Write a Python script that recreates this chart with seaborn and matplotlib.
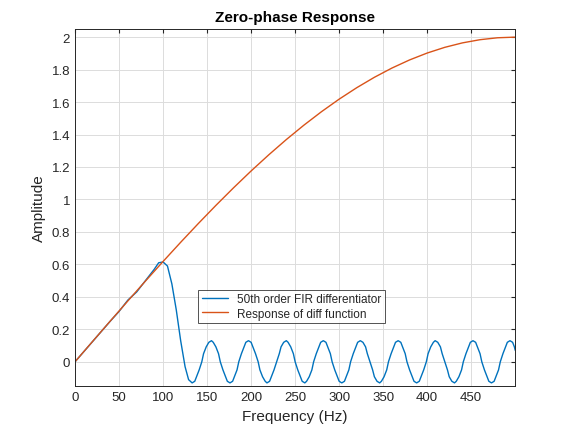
import matplotlib
matplotlib.use("Agg")
import matplotlib.pyplot as plt
import seaborn as sns
import pandas as pd

diff_f = [0,20,40,60,80,100,120,140,160,180,200,220,240,260,280,300,320,340,360,380,400,420,440,460,480,500]
diff_a = [0,0.1256,0.2507,0.3748,0.4974,0.6180,0.7362,0.8515,0.9635,1.0716,1.1756,1.2748,1.3691,1.4579,1.5410,
          1.6180,1.6886,1.7526,1.8097,1.8596,1.9021,1.9372,1.9646,1.9842,1.9961,2.0]

fir_f = [0,20,40,50,60,70,80,90,95,100,105,110,115,120,125,129,
         133,136,138,141,144,146,149,152,155,157,160,163,165,168,171,173,
         176,179,181,184,186,189,192,194,197,200,202,205,208,210,213,216,
         218,221,223,226,229,232,234,237,240,242,245,248,250,253,256,258,
         261,263,266,269,271,274,277,279,282,285,287,290,292,295,298,300,
         303,306,308,311,313,316,319,321,324,327,330,332,335,338,340,343,
         346,348,351,354,356,359,362,364,367,370,372,375,377,380,383,385,
         388,391,393,396,399,401,404,407,409,412,415,417,420,423,425,428,
         431,433,436,439,441,444,447,449,452,455,457,460,462,465,468,470,
         473,476,478,481,483,486,489,491,494,497,499,500]
cycle = [-0.13,-0.12,-0.092,-0.05,0,0.05,0.092,0.12,0.13,0.12,0.092,0.05,0,-0.05,-0.092,-0.12]
fir_a = ([0,0.125,0.25,0.31,0.38,0.43,0.50,0.57,0.61,0.615,0.59,0.48,0.32,0.13,-0.03,-0.11]
         + cycle*8 + [-0.13,-0.12,-0.092,-0.05,0,0.05,0.092,0.12,0.13,0.12,0.092,0.07])

sns.set_style("white")
plt.rcParams['font.family'] = ['Liberation Sans', 'DejaVu Sans']
fig = plt.figure(figsize=(5.77,4.35), dpi=100)
ax = fig.add_axes([0.13,0.11,0.763,0.821])
d1 = pd.DataFrame({"f":fir_f,"a":fir_a})
d2 = pd.DataFrame({"f":diff_f,"a":diff_a})
sns.lineplot(data=d1,x="f",y="a",ax=ax,color="#0072BD",lw=1,sort=False,label="50th order FIR differentiator")
sns.lineplot(data=d2,x="f",y="a",ax=ax,color="#D95319",lw=1,sort=False,label="Response of diff function")
ax.set_xlim(0,500)
ax.set_ylim(-0.15,2.05)
ax.set_xticks(range(0,500,50))
ax.set_yticks([0,0.2,0.4,0.6,0.8,1,1.2,1.4,1.6,1.8,2])
ax.set_yticklabels(["0","0.2","0.4","0.6","0.8","1","1.2","1.4","1.6","1.8","2"])
ax.grid(True,color="#dcdcdc",lw=0.7)
for s in ax.spines.values():
    s.set_color("#262626"); s.set_linewidth(0.7)
ax.tick_params(labelsize=9.5,colors="#262626",direction="in",length=3,top=True,right=True)
ax.set_xlabel("Frequency (Hz)",fontsize=11,color="#262626")
ax.set_ylabel("Amplitude",fontsize=11,color="#262626")
ax.set_title("Zero-phase Response",fontsize=11,fontweight="bold",color="#000000")
leg = ax.legend(loc="lower left",bbox_to_anchor=(0.266,0.16),fontsize=8.5,frameon=True,fancybox=False,
                borderpad=0.3,handlelength=2.2,labelspacing=0.2)
leg.get_frame().set_edgecolor("#262626"); leg.get_frame().set_linewidth(0.7)
fig.savefig("out.png",dpi=100)
